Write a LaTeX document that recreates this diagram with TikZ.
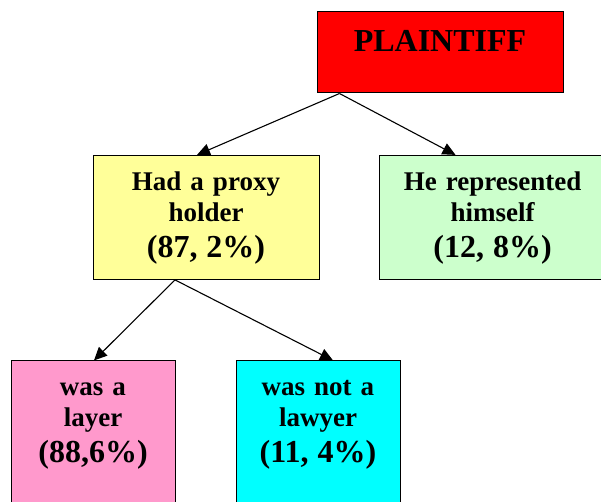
\documentclass[tikz,border=0pt]{standalone}
\usepackage{fontspec}
\setmainfont{Liberation Serif}[BoldFont={Liberation Serif Bold}]
\usetikzlibrary{arrows.meta, positioning}

\definecolor{plaintiffred}{RGB}{255,0,0}
\definecolor{proxyyellow}{RGB}{255,255,153}
\definecolor{selfgreen}{RGB}{204,255,204}
\definecolor{lawyerpink}{RGB}{255,153,204}
\definecolor{otheraqua}{RGB}{0,255,255}

\tikzset{
    casebox/.style={draw=black, line width=1pt, inner sep=0pt, align=center,
        font=\bfseries\fontsize{27}{31}\selectfont, text height=35pt},
    branch/.style={line width=1.1pt, -{Triangle[length=13pt, width=12pt]}}
}
\newcommand{\share}[1]{{\fontsize{32}{36}\selectfont #1}}

\begin{document}
\begin{tikzpicture}[x=1pt, y=-1pt]
    \clip (0,0) rectangle (601,502);
    \fill[white] (0,0) rectangle (601,502);

    % top of the tree
    \node[casebox, fill=plaintiffred, text width=246pt, text height=40pt, text depth=41pt,
        font=\bfseries\fontsize{32}{36}\selectfont] (plaintiff) at (440,52.5) {PLAINTIFF};

    % second row
    \node[casebox, fill=proxyyellow, text width=226pt, text depth=89pt] (proxy) at (206,217.4)
        {Had a proxy\\holder\\[5pt]\share{(87, 2\%)}};
    \node[casebox, fill=selfgreen, text width=227pt, text depth=89pt] (himself) at (492.5,217.4)
        {He represented\\himself\\[5pt]\share{(12, 8\%)}};

    % third row
    \node[casebox, fill=lawyerpink, text width=164pt, text depth=124pt] (lawyer) at (93,440.4)
        {was a\\layer\\[5pt]\share{(88,6\%)}};
    \node[casebox, fill=otheraqua, text width=164pt, text depth=124pt] (notlawyer) at (318,440.4)
        {was not a\\lawyer\\[5pt]\share{(11, 4\%)}};

    % connectors
    \draw[branch] ([xshift=23pt]plaintiff.south west) -- ([xshift=-9pt]proxy.north);
    \draw[branch] ([xshift=23pt]plaintiff.south west) -- ([xshift=-37pt]himself.north);
    \draw[branch] ([xshift=-31pt]proxy.south) -- ([xshift=1pt]lawyer.north);
    \draw[branch] ([xshift=-31pt]proxy.south) -- ([xshift=15pt]notlawyer.north);
\end{tikzpicture}
\end{document}
